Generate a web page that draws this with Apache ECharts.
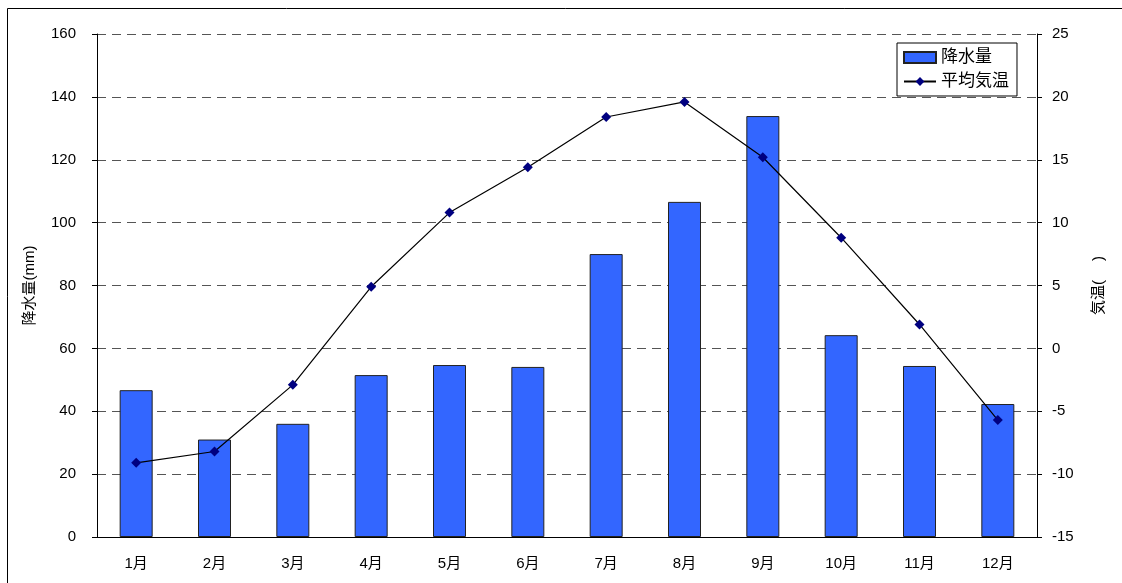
<!DOCTYPE html>
<html>
<head>
<meta charset="utf-8">
<script src="https://cdn.jsdelivr.net/npm/echarts@6/dist/echarts.min.js"></script>
<style>
  html, body { margin: 0; padding: 0; overflow: hidden; background: #fff; }
  #chart { width: 1122px; height: 583px; }
</style>
</head>
<body>
<div id="chart"></div>
<script>
// 月別の降水量と平均気温
var months = ['1月', '2月', '3月', '4月', '5月', '6月', '7月', '8月', '9月', '10月', '11月', '12月']
var rain = [46.7, 31, 36, 51.5, 54.7, 54.1, 90, 106.6, 133.9, 64.2, 54.4, 42.3]
var temp = [-9.1, -8.2, -2.9, 4.9, 10.8, 14.4, 18.4, 19.6, 15.2, 8.8, 1.9, -5.7]

var font = 'Liberation Sans, Arial, "Noto Sans CJK JP", sans-serif'

var myChart = echarts.init(document.getElementById('chart'))

var option = {
    backgroundColor: '#fff',
    textStyle: { fontFamily: font, color: '#000' },
    graphic: [{
        type: 'rect',
        shape: { x: 7.5, y: 8.5, width: 1300, height: 800 },
        style: { fill: null, stroke: '#000', lineWidth: 1 }
    }],
    grid: { left: 97, right: 85, top: 34, bottom: 46 },
    legend: {
        orient: 'vertical',
        left: 897,
        top: 43,
        borderColor: '#000',
        borderWidth: 1,
        padding: [6, 8, 6, 6],
        itemGap: 7,
        itemWidth: 32,
        itemHeight: 11,
        textStyle: { fontSize: 17, color: '#000', fontFamily: font },
        data: [{ name: '降水量', icon: 'rect' }, { name: '平均気温' }]
    },
    xAxis: {
        type: 'category',
        data: months,
        axisLine: { lineStyle: { color: '#000' } },
        axisTick: { inside: true, length: 4, lineStyle: { color: '#000' } },
        axisLabel: { color: '#000', fontSize: 15, margin: 19 }
    },
    yAxis: [{
        type: 'value',
        min: 0, max: 160, interval: 20,
        name: '降水量(mm)',
        nameLocation: 'middle',
        nameGap: 60,
        nameTextStyle: { fontSize: 15, color: '#000' },
        axisLine: { show: true, lineStyle: { color: '#000' } },
        axisTick: { show: true, length: 5, lineStyle: { color: '#000' } },
        axisLabel: { color: '#000', fontSize: 15, margin: 21 },
        splitLine: { lineStyle: { color: '#555', type: [9, 6] } }
    }, {
        type: 'value',
        min: -15, max: 25, interval: 5,
        name: '気温(　 )',
        nameLocation: 'middle',
        nameRotate: 90,
        nameGap: 54,
        nameTextStyle: { fontSize: 15, color: '#000' },
        position: 'right',
        axisLine: { show: true, lineStyle: { color: '#000' } },
        axisTick: { show: true, length: 5, lineStyle: { color: '#000' } },
        axisLabel: { color: '#000', fontSize: 15, margin: 15 },
        splitLine: { show: false }
    }],
    series: [{
        name: '降水量',
        type: 'bar',
        data: rain,
        barWidth: 33,
        itemStyle: { color: '#3366FF', borderColor: '#222', borderWidth: 1 }
    }, {
        name: '平均気温',
        type: 'line',
        yAxisIndex: 1,
        data: temp,
        symbol: 'diamond',
        symbolSize: 10,
        lineStyle: { color: '#000', width: 1.2 },
        itemStyle: { color: '#000080' }
    }]
}
myChart.setOption(option)

window.onresize = () => {
    myChart.resize()
}
</script>
</body>
</html>
